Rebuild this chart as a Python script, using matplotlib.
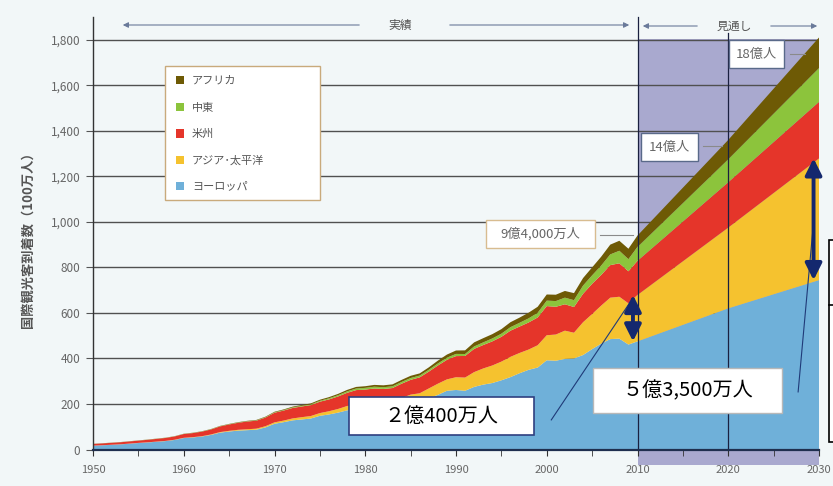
import numpy as np
import matplotlib
matplotlib.use("Agg")
import matplotlib.pyplot as plt
from matplotlib.patches import Rectangle, FancyArrowPatch
from matplotlib.lines import Line2D
from matplotlib.ticker import MultipleLocator, FuncFormatter

plt.rcParams['font.family'] = ['Noto Sans CJK JP', 'DejaVu Sans']

# 国際観光客到着数（100万人）: 実績 1950-2010, 見通し 2020, 2030
years = list(range(1950, 2011)) + [2020, 2030]

europe = [16.8, 18.5, 20.5, 22.5, 25.5, 28.5, 31, 34, 37, 42,
          50.4, 53, 57, 64, 74, 79, 83, 85, 87, 97,
          113, 120, 128, 132, 136, 148, 154, 162, 172, 180,
          178, 180, 180, 182, 195, 208, 210, 225, 240, 258,
          261.5, 258, 275, 285, 292, 304, 318, 335, 350, 360,
          392, 390, 398, 400, 415, 441, 465, 485, 487, 461, 475,
          620, 744]
asia = [0.2, 0.2, 0.3, 0.3, 0.4, 0.5, 0.6, 0.7, 0.8, 0.9,
        0.9, 1.2, 1.5, 2.0, 2.5, 3.0, 3.5, 4.0, 4.5, 5.3,
        6.2, 7.0, 8.5, 10, 11, 12, 14, 16, 19, 21,
        23, 25, 27, 28, 31, 33, 37, 43, 49, 50,
        56, 58, 65, 71, 77, 82, 89, 89, 89, 98,
        110, 115, 124, 113, 144, 154, 167, 182, 184, 181, 204,
        355, 535]
americas = [7.5, 8, 8.5, 9, 9.5, 10, 11, 12, 13, 14.5,
            16.7, 18, 20, 22, 25, 28, 31, 34, 35, 38,
            42.3, 44, 46, 47, 48, 50, 52, 55, 58, 60,
            62.3, 63, 59, 60, 63, 65, 70, 74, 80, 86,
            92.8, 95, 102, 103, 106, 109, 115, 116, 119, 122,
            128, 122, 116, 113, 125, 133, 135, 143, 147, 141, 150,
            199, 248]
mideast = [0.2, 0.2, 0.25, 0.3, 0.3, 0.35, 0.4, 0.45, 0.5, 0.55,
           0.6, 0.7, 0.8, 0.9, 1.0, 1.1, 1.2, 1.3, 1.5, 1.7,
           1.9, 2.2, 2.6, 2.9, 3.4, 4.0, 4.8, 5.5, 6.3, 7.0,
           7.5, 7.8, 7.6, 7.5, 7.7, 8.0, 7.8, 8.2, 8.8, 9.2,
           9.6, 8.5, 10.8, 11.5, 12.8, 13.7, 15.3, 16.5, 18.0, 20.5,
           24, 25, 29, 30, 36, 37, 41, 47, 55, 53, 61,
           101, 149]
africa = [0.5, 0.52, 0.55, 0.58, 0.6, 0.62, 0.65, 0.68, 0.7, 0.72,
          0.75, 0.85, 0.95, 1.05, 1.2, 1.35, 1.5, 1.7, 1.9, 2.1,
          2.4, 2.8, 3.2, 3.6, 4.1, 4.7, 5.2, 5.8, 6.4, 6.9,
          7.2, 8.0, 8.4, 8.6, 9.0, 9.7, 9.5, 10.5, 12.5, 13.8,
          15.0, 16.0, 17.8, 18.5, 18.9, 20.0, 21.8, 22.8, 25.0, 26.5,
          27, 28, 29.5, 31, 33, 35, 39, 43, 44, 46, 50,
          85, 134]

regions = ['ヨーロッパ', 'アジア･太平洋', '米州', '中東', 'アフリカ']
colors = ['#6fb0d9', '#f5c22f', '#e5352a', '#8cc43c', '#6e5a05']

W, H = 833, 486


def fx(x):
    return x / W


def fy(y):
    return 1 - y / H


fig = plt.figure(figsize=(W / 100, H / 100), dpi=100, facecolor='#f2f7f8')
ax = fig.add_axes([fx(93), 1 - 449.5 / H, 726 / W, 432.5 / H])
ax.set_facecolor('#f2f7f8')

ax.set_xlim(1950, 2030)
ax.set_ylim(0, 1900)

# 見通し期間の背景
ax.add_patch(Rectangle((2010, -70), 20, 1875, facecolor='#a9a9cf',
                       edgecolor='none', zorder=0.2, clip_on=False))

ax.stackplot(years, europe, asia, americas, mideast, africa,
             colors=colors, linewidth=0, zorder=2)

ax.set_yticks(range(0, 1801, 200))
ax.yaxis.set_major_formatter(FuncFormatter(lambda v, p: f'{int(v):,}'))
ax.grid(axis='y', color='#505050', lw=1.0, zorder=1)
ax.grid(axis='x', visible=False)

ax.xaxis.set_major_locator(MultipleLocator(10))
ax.xaxis.set_minor_locator(MultipleLocator(5))
ax.tick_params(axis='x', which='both', length=4, color='#333333',
               labelsize=8, labelcolor='#666666', pad=7)
ax.tick_params(axis='y', length=5, color='#555555', labelsize=8.5,
               labelcolor='#666666', pad=4)

for s in ['top', 'right']:
    ax.spines[s].set_visible(False)
ax.spines['left'].set_color('#333333')
ax.spines['left'].set_linewidth(1.0)
ax.spines['bottom'].set_color('#1f2f4f')
ax.spines['bottom'].set_linewidth(1.6)
ax.spines['bottom'].set_zorder(3)

# 2010年・2020年の区切り線
ax.plot([2010, 2010], [0, 1900], color='#1a2040', lw=0.9, zorder=3, clip_on=False)
ax.plot([2020, 2020], [0, 1830], color='#1a2040', lw=0.9, zorder=3, clip_on=False)

# アジア・太平洋の幅を示す両矢印
i10 = years.index(2010)
i30 = years.index(2030)
for xa, i in [(2009.5, i10), (2029.4, i30)]:
    ax.annotate('', xy=(xa, europe[i] + asia[i]), xytext=(xa, europe[i]),
                arrowprops=dict(arrowstyle='<|-|>', lw=2.8, color='#14286e',
                                mutation_scale=25, shrinkA=0, shrinkB=0),
                zorder=5)

# 引き出し線
ax.plot([2000.5, 2009.2], [130, 648], color='#1f3a78', lw=0.8, zorder=4)
ax.plot([2027.7, 2029.3], [253, 955], color='#1f3a78', lw=0.8, zorder=4)

# 上部の 実績 / 見通し 矢印
arrow_c = '#6a7a9a'


def harrow(x0, x1, y):
    fig.add_artist(FancyArrowPatch(
        (fx(x0), fy(y)), (fx(x1), fy(y)), transform=fig.transFigure,
        arrowstyle='-|>', mutation_scale=8, color=arrow_c, lw=0.8))


harrow(362, 120, 25)
harrow(447, 632, 25)
harrow(700, 640, 26)
harrow(768, 820, 26)
fig.text(fx(400), fy(25), '実績', ha='center', va='center', fontsize=8.5,
         color='#555555')
fig.text(fx(734), fy(26), '見通し', ha='center', va='center', fontsize=8.5,
         color='#555555')


def box(x0, y0, x1, y1, ec, lw=1.0):
    fig.add_artist(Rectangle((fx(x0), fy(y1)), fx(x1) - fx(x0), fy(y0) - fy(y1),
                             transform=fig.transFigure, facecolor='white',
                             edgecolor=ec, lw=lw, zorder=6))


def hline(x0, x1, y, c='#8a8a8a', lw=0.8):
    fig.add_artist(Line2D([fx(x0), fx(x1)], [fy(y), fy(y)],
                          transform=fig.transFigure, color=c, lw=lw, zorder=6))


# 凡例
box(165, 66, 320, 200, '#c9aa7c')
leg_y = [80.5, 107.5, 133.5, 160.5, 186.5]
for name, c, y in zip(regions[::-1], colors[::-1], leg_y):
    fig.add_artist(Rectangle((fx(176), fy(y + 4)), 8 / W, 8 / H,
                             transform=fig.transFigure, facecolor=c,
                             edgecolor='none', zorder=7))
    fig.text(fx(192), fy(y), name, ha='left', va='center', fontsize=8,
             color='#555555', zorder=7)

# 合計の吹き出し
box(486, 220, 595, 248, '#d8bc90')
fig.text(fx(540.5), fy(234), '9億4,000万人', ha='center', va='center',
         fontsize=9.5, color='#666666', zorder=7)
hline(600, 633, 235)

box(641, 133, 698, 161, '#5a6a8a')
fig.text(fx(669.5), fy(147), '14億人', ha='center', va='center',
         fontsize=9.5, color='#666666', zorder=7)
hline(703, 722, 146)

box(729, 40, 784, 68, '#5a6a8a')
fig.text(fx(756.5), fy(54), '18億人', ha='center', va='center',
         fontsize=9.5, color='#666666', zorder=7)
hline(790, 805, 54)

# アジア・太平洋の増加数
box(349, 397, 534, 435, '#2f3f80', 1.2)
fig.text(fx(441.5), fy(416), '２億400万人', ha='center', va='center',
         fontsize=14.5, color='black', zorder=7)

box(593, 368, 782, 413, '#b8b8b8', 1.0)
fig.text(fx(687.5), fy(390.5), '５億3,500万人', ha='center', va='center',
         fontsize=14.5, color='black', zorder=7)

# 右端の枠
box(829, 240, 845, 442, 'black', 1.2)
hline(829, 833, 305, c='black', lw=1.2)

fig.text(fx(28), fy(237), '国際観光客到着数（100万人）', rotation=90,
         ha='center', va='center', fontsize=9.5, fontweight='bold',
         color='#555555')

fig.savefig('out.png', dpi=100, facecolor=fig.get_facecolor())
